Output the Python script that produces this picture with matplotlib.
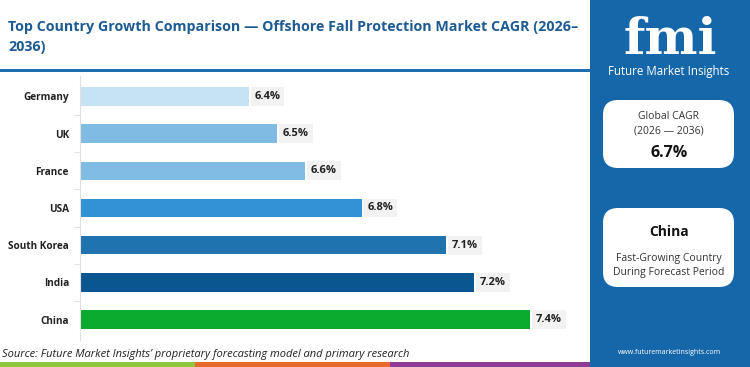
import matplotlib
matplotlib.use("Agg")
import matplotlib.pyplot as plt
from matplotlib.patches import FancyBboxPatch, Rectangle

plt.rcParams['font.family'] = ['Open Sans', 'DejaVu Sans']

countries = ["Germany", "UK", "France", "USA", "South Korea", "India", "China"]
cagr = [6.4, 6.5, 6.6, 6.8, 7.1, 7.2, 7.4]
bar_colors = ["#c5e3f3", "#7fbbe2", "#80bce3", "#3392d4", "#1f74b0", "#0a5690", "#0aab2e"]
title = "Top Country Growth Comparison \u2014 Offshore Fall Protection Market CAGR (2026\u2013\n2036)"
source = "Source: Future Market Insights\u2019 proprietary forecasting model and primary research"
global_cagr = "6.7%"
top_country = "China"

W, H = 750, 367
fig = plt.figure(figsize=(7.5, 3.67), dpi=100)
fig.patch.set_facecolor("white")

def fx(px):
    return px / W

def fy(py):
    return 1 - py / H

# title
fig.text(fx(8), fy(37), title, fontsize=10.3, fontweight="bold", color="#1d5b94",
         va="center", ha="left", linespacing=1.6)
fig.add_artist(Rectangle((0, fy(72)), fx(590), 3.5 / H, transform=fig.transFigure,
                         color="#1f6fae", lw=0))

# axes
ax = fig.add_axes([fx(80), fy(340), fx(500), (340 - 76) / H])
y = list(range(len(countries)))
ax.barh(y, cagr, left=0, height=0.5, color=bar_colors)
ax.set_xlim(5.8, 5.8 + 500 / 281.5)
ax.set_ylim(6.55, -0.55)
ax.set_yticks(y)
ax.set_yticklabels(countries, fontsize=7.2, fontweight="bold", color="#222222")
ax.set_yticks([i + 0.5 for i in range(len(countries) - 1)], minor=True)
ax.tick_params(axis="y", which="major", length=0, pad=8)
ax.tick_params(axis="y", which="minor", length=4, color="#dddddd")
ax.set_xticks([])
for s in ["top", "right", "bottom"]:
    ax.spines[s].set_visible(False)
ax.spines["left"].set_color("#e0e0e0")
for yi, v in zip(y, cagr):
    ax.text(v + 0.02, yi, f"{v:.1f}%", va="center", ha="left", fontsize=8,
            fontweight="bold", color="#222222",
            bbox=dict(boxstyle="square,pad=0.35", fc="#f2f2f2", ec="none"))

# source
fig.text(fx(2), fy(354), source, fontsize=8, style="italic", color="#222222",
         va="center", ha="left")

# bottom stripes
for x0, x1, c in [(0, 195, "#8dc63f"), (195, 390, "#e8692e"), (390, 590, "#8e3a96")]:
    fig.add_artist(Rectangle((fx(x0), 0), fx(x1 - x0), 5 / H, transform=fig.transFigure,
                             color=c, lw=0))

# right panel
fig.add_artist(Rectangle((fx(590), 0), fx(160), 1, transform=fig.transFigure,
                         color="#1667aa", lw=0))
# logo
fig.text(fx(670), fy(40), "fmi", fontsize=36, fontweight="bold", color="white",
         ha="center", va="center", family=["DejaVu Serif"])
for i in range(9):
    yy = 18 + i * 5.0
    fig.add_artist(Rectangle((fx(608), fy(yy)), fx(125), 1.3 / H,
                             transform=fig.transFigure, color="#1667aa", lw=0))
fig.text(fx(669), fy(72), "Future Market Insights", fontsize=8.3, color="white",
         ha="center", va="center")

for (y0, y1) in [(100, 168), (208, 287)]:
    fig.add_artist(FancyBboxPatch((fx(603), fy(y1)), fx(131), (y1 - y0) / H,
                                  boxstyle="round,pad=0,rounding_size=0.02",
                                  transform=fig.transFigure, fc="white", ec="none",
                                  mutation_aspect=W / H))

fig.text(fx(669), fy(117), "Global CAGR", fontsize=7.5, color="#333333", ha="center", va="center")
fig.text(fx(669), fy(131), "(2026 \u2014 2036)", fontsize=7.5, color="#333333", ha="center", va="center")
fig.text(fx(669), fy(153), global_cagr, fontsize=11.5, fontweight="bold", color="#111111",
         ha="center", va="center")
fig.text(fx(669), fy(232), top_country, fontsize=10, fontweight="bold", color="#111111",
         ha="center", va="center")
fig.text(fx(669), fy(258), "Fast-Growing Country", fontsize=7.5, color="#333333",
         ha="center", va="center")
fig.text(fx(669), fy(272), "During Forecast Period", fontsize=7.5, color="#333333",
         ha="center", va="center")
fig.text(fx(669), fy(352), "www.futuremarketinsights.com", fontsize=5, color="white",
         ha="center", va="center")

fig.savefig("out.png", dpi=100, facecolor="white")
